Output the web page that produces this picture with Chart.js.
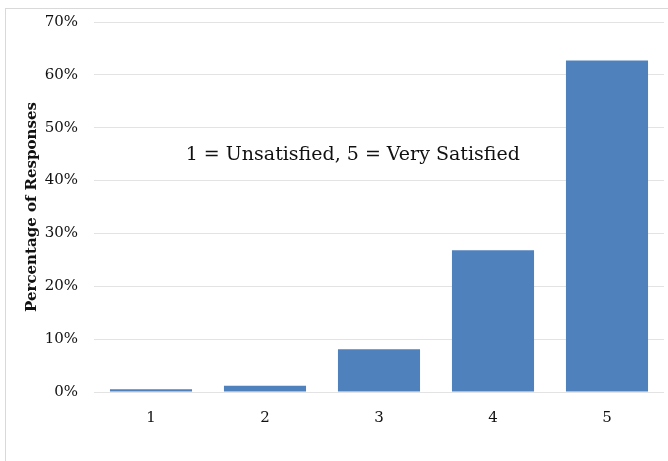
<!DOCTYPE html>
<html>
<head>
<meta charset="utf-8">
<script src="https://cdn.jsdelivr.net/npm/chart.js@4/dist/chart.umd.min.js"></script>
<style>
  html, body { margin: 0; padding: 0; background: #fff; }
  #wrap { width: 668px; height: 461px; position: relative; }
</style>
</head>
<body>
<div id="wrap"><canvas id="satisfactionChart"></canvas></div>
<script>
const categories = ['1', '2', '3', '4', '5'];
const responseShares = [0.5, 1.2, 8.1, 26.8, 62.7];
const yTicks = [0, 10, 20, 30, 40, 50, 60, 70];
const noteText = '1 = Unsatisfied, 5 = Very Satisfied';
const notePos = { x: 1.77, y: 44.8 };

const serif = "'DejaVu Serif', 'Liberation Serif', serif";

// light frame around the chart, like the original export
const framePlugin = {
    id: 'frame',
    beforeDraw(chart) {
        const ctx = chart.ctx;
        ctx.save();
        ctx.fillStyle = '#fff';
        ctx.fillRect(0, 0, chart.width, chart.height);
        ctx.strokeStyle = '#d9d9d9';
        ctx.lineWidth = 1;
        ctx.strokeRect(5.5, 8.5, chart.width + 20, chart.height + 20);
        ctx.restore();
    }
};

const notePlugin = {
    id: 'note',
    afterDatasetsDraw(chart) {
        const { ctx, scales } = chart;
        ctx.save();
        ctx.font = '19px ' + serif;
        ctx.fillStyle = '#111';
        ctx.textAlign = 'center';
        ctx.textBaseline = 'middle';
        ctx.fillText(noteText, scales.x.getPixelForValue(notePos.x), scales.y.getPixelForValue(notePos.y));
        ctx.restore();
    }
};

new Chart(document.getElementById('satisfactionChart'), {
    type: 'bar',
    data: {
        labels: categories,
        datasets: [{
            data: responseShares,
            backgroundColor: '#4f81bd',
            borderWidth: 0,
            categoryPercentage: 1,
            barPercentage: 0.72
        }]
    },
    options: {
        responsive: true,
        maintainAspectRatio: false,
        animation: false,
        layout: { padding: { top: 22, right: 4, bottom: 0, left: 0 } },
        plugins: {
            legend: { display: false },
            tooltip: { enabled: false }
        },
        scales: {
            x: {
                grid: { display: false },
                border: { display: false },
                ticks: { color: '#111', font: { family: serif, size: 15 }, padding: 9 },
                afterFit(scale) { scale.height = 69; }
            },
            y: {
                min: 0,
                max: 70,
                afterBuildTicks(scale) { scale.ticks = yTicks.map(v => ({ value: v })); },
                grid: { color: '#e3e3e3', drawTicks: false },
                border: { display: false },
                ticks: {
                    color: '#111',
                    padding: 16,
                    font: { family: serif, size: 15 },
                    callback: v => v + '%'
                },
                title: {
                    display: true,
                    text: 'Percentage of Responses',
                    color: '#111',
                    font: { family: serif, size: 15, weight: 'bold' },
                    padding: { top: 23, bottom: 0 }
                },
                afterFit(scale) {
                    scale.width = 94;
                    scale.paddingTop = 0;
                    scale.paddingBottom = 0;
                }
            }
        }
    },
    plugins: [framePlugin, notePlugin]
});
</script>
</body>
</html>
